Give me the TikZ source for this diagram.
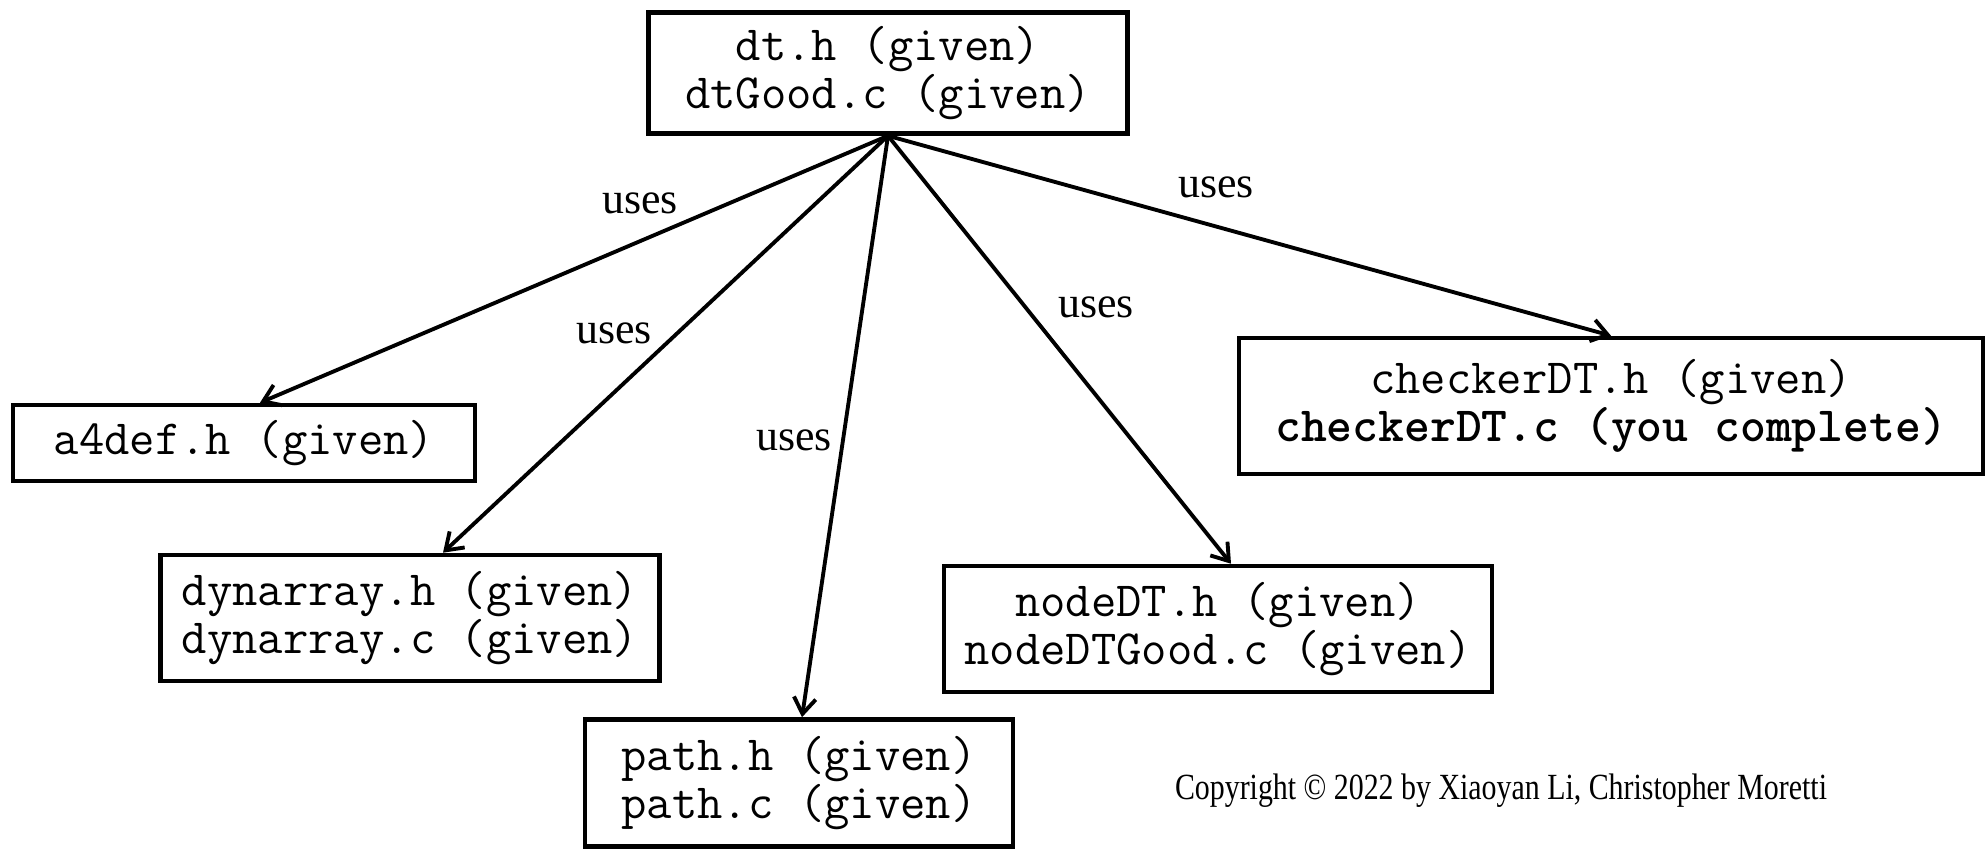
\documentclass[tikz,border=0pt]{standalone}
\usepackage{fontspec}
\setmainfont{Liberation Serif}
\usetikzlibrary{arrows.meta}

\begin{document}
\begin{tikzpicture}[
        file/.style={draw=black, line width=2.6pt, align=center, inner sep=0pt,
            font=\ttfamily\fontsize{28}{27.3}\selectfont},
        uses/.style={font=\fontsize{25}{30}\selectfont},
        link/.style={line width=2.2pt, -{Straight Barb[length=3.2mm, width=4.4mm, line width=2.2pt]}}
    ]
        \useasboundingbox (0,0) rectangle (39.72,17.02);

        \node[file, minimum width=9.58cm, minimum height=2.42cm](dt) at (17.76,15.56) {dt.h (given)\\dtGood.c (given)};

        \node[file, minimum width=9.24cm, minimum height=1.52cm](a4def) at (4.88,8.16) {a4def.h (given)};
        \node[file, minimum width=9.98cm, minimum height=2.52cm](dyn) at (8.2,4.66) {dynarray.h (given)\\dynarray.c (given)};
        \node[file, minimum width=8.56cm, minimum height=2.54cm](path) at (15.98,1.36) {path.h (given)\\path.c (given)};
        \node[file, minimum width=10.96cm, minimum height=2.52cm](nodedt) at (24.36,4.44) {nodeDT.h (given)\\nodeDTGood.c (given)};
        \node[file, minimum width=14.88cm, minimum height=2.72cm](checker) at (32.22,8.9) {checkerDT.h (given)\\\textbf{checkerDT.c (you complete)}};

        \foreach \t/\s in {a4def/0.32, dyn/0.66, path/0.06, nodedt/0.26, checker/0} {
                \draw[link] (dt.south) -- ([xshift=\s cm]\t.north);
            }

        \node[uses](u-a4def) at (12.8,12.96) {uses};
        \node[uses](u-dyn) at (12.28,10.36) {uses};
        \node[uses](u-path) at (15.88,8.22) {uses};
        \node[uses](u-nodedt) at (21.92,10.88) {uses};
        \node[uses](u-checker) at (24.32,13.28) {uses};

        \node[font=\fontsize{21}{24}\selectfont, xscale=0.81, transform shape](copy) at (30.02,1.2) {Copyright \textcopyright{} 2022 by Xiaoyan Li, Christopher Moretti};
    \end{tikzpicture}
\end{document}
